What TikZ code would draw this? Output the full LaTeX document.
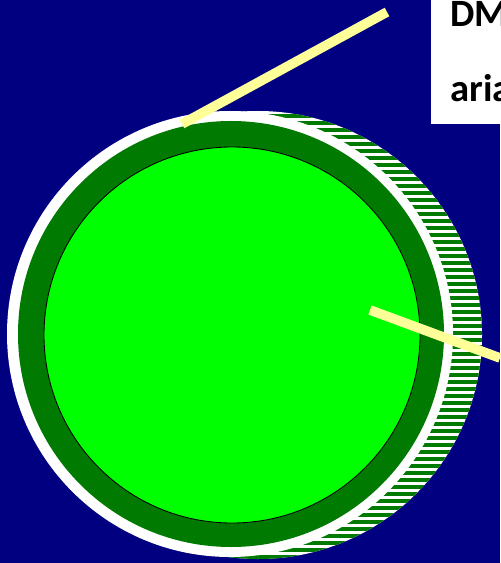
\documentclass[tikz,border=0pt]{standalone}
\usepackage{fontspec}
\setmainfont{Carlito}
\usepackage{tikz}
\usetikzlibrary{positioning, calc}
\definecolor{bgnavy}{RGB}{0, 0, 128}
\definecolor{ringgreen}{RGB}{0, 122, 0}
\definecolor{coregreen}{RGB}{0, 255, 0}
\definecolor{pointer}{RGB}{255, 255, 153}

\begin{document}
\begin{tikzpicture}[
    x=0.02cm, y=-0.02cm,
    ring/.style={fill=ringgreen},
    core/.style={fill=coregreen, draw=black, line width=0.5pt},
    halo/.style={fill=white},
    pointerline/.style={pointer, line width=5.5pt},
    labelbox/.style={fill=white, inner sep=0pt, minimum width=1.5cm, minimum height=2.48cm},
    labeltext/.style={inner sep=0pt, font=\bfseries\fontsize{22}{26}\selectfont}
    ]
    % Background
    \fill[bgnavy] (0,0) rectangle (500,563);
    \useasboundingbox (0,0) rectangle (500,563);

    % Hatched shadow
    \begin{scope}
      \clip (258,335) circle (224);
      \fill[white] (0,0) rectangle (500,563);
      \foreach \y in {100,107,...,570} {
          \fill[ringgreen] (230,\y) rectangle (500,\y+4);
        }
    \end{scope}

    % Disc
    \fill[halo] (230,334) circle (223);
    \fill[ring] (231,334) circle (213);
    \draw[core] (232,335) circle (188);

    % Legend
    \node[labelbox, anchor=north west] (legend) at (431,0) {};
    \node[labeltext, anchor=base west] (dm) at (450,27) {DM};
    \node[labeltext, anchor=base west] (aria) at (450,102) {aria};

    % Pointers
    \coordinate (rimtip) at (182,124);
    \coordinate (rimend) at (387,12);
    \coordinate (coretip) at (370,310);
    \coordinate (coreend) at (500,358);
    \draw[pointerline] (rimtip) -- (rimend);
    \draw[pointerline] (coretip) -- (coreend);
  \end{tikzpicture}
\end{document}
